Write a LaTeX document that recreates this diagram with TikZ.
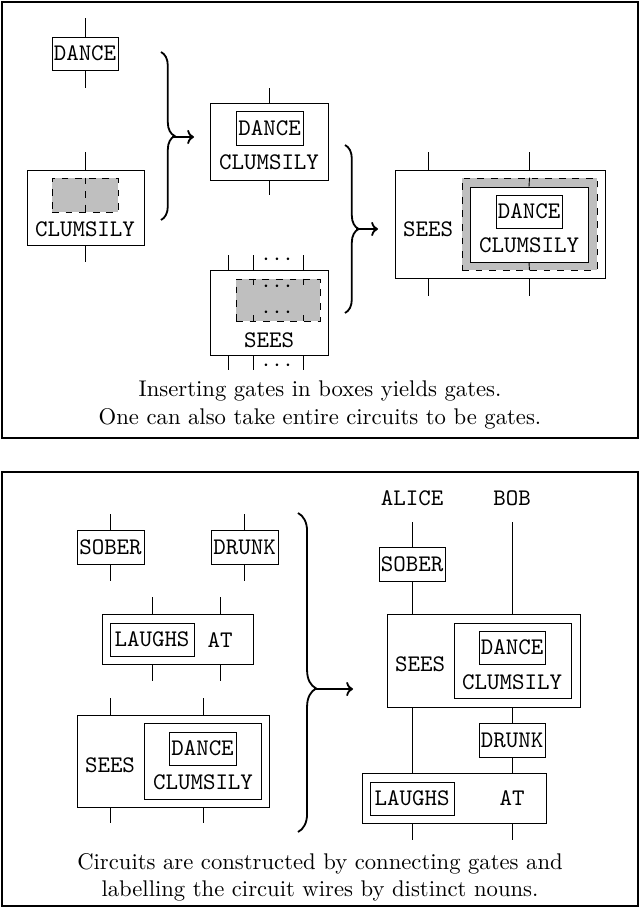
\documentclass[tikz,border=0pt]{standalone}
\usetikzlibrary{fit,decorations.pathreplacing,arrows.meta}

\tikzset{
	gate/.style={draw, rectangle, inner sep=0pt, font=\ttfamily},
	hole/.style={draw, dashed, fill=gray!50, inner sep=0pt},
	lbl/.style={font=\fontsize{10.5}{12}\ttfamily, inner sep=0pt},
	panel/.style={draw, thick, inner sep=0pt},
	bracer/.style={decorate, decoration={brace, amplitude=6pt}, thick},
	into/.style={thick, -{To[length=3pt]}}
}

\begin{document}
\begin{tikzpicture}[x=0.0155cm, y=-0.0155cm]
		\useasboundingbox (0,0) rectangle (640,909);
		\node[panel, fit={(2,2) (638,438)}] (top) {};
		\node[panel, fit={(2,472) (638,906)}] (bot) {};
		
		% top panel, left column
		\node[gate, fit={(52,37) (118,70)}] (dance) {};
		\node[lbl] at (dance) {DANCE};
		\draw (dance.north) -- ++(0,-19);
		\draw (dance.south) -- ++(0,18);
		
		\node[gate, fit={(27,170) (144,245)}] (clumsily) {};
		\node[hole, fit={(52,178) (118,212)}] (hole1) {};
		\node[lbl] at (85,229) {CLUMSILY};
		\draw (clumsily.north) -- ++(0,-18);
		\draw (clumsily.south) -- ++(0,17);
		\draw[dashed] (hole1.north) -- (hole1.south);
		
		\draw[bracer] (161,52) -- (161,220);
		\coordinate (tip1) at (172,137);
		\coordinate (in1) at (194,137);
		\draw[into] (tip1) -- (in1);
		
		% top panel, middle column
		\node[gate, fit={(210,103) (328,180)}] (dc) {};
		\node[gate, fit={(236,111) (303,145)}] (dcd) {};
		\node[lbl] at (dcd) {DANCE};
		\node[lbl] at (269,162) {CLUMSILY};
		\draw (dc.north) -- ++(0,-15);
		\draw (dc.south) -- ++(0,15);
		
		\node[gate, fit={(210,270) (328,355)}] (sees) {};
		\node[hole, fit={(236,279) (320,321)}] (hole2) {};
		\node[lbl] at (269,340) {SEES};
		\foreach \x in {228,253,303} {
			\draw (\x,0 |- sees.north) -- ++(0,-15);
			\draw (\x,0 |- sees.south) -- ++(0,15);
		}
		\foreach \x in {253,303} {
			\draw[dashed] (\x,0 |- hole2.north) -- ++(0,8);
			\draw[dashed] (\x,0 |- hole2.south) -- ++(0,-8);
		}
		\node[lbl] at (277,260) {$\cdots$};
		\node[lbl] at (277,287) {$\cdots$};
		\node[lbl] at (277,313) {$\cdots$};
		\node[lbl] at (277,366) {$\cdots$};
		
		\draw[bracer] (345,145) -- (345,313);
		\coordinate (tip2) at (356,229);
		\coordinate (in2) at (378,229);
		\draw[into] (tip2) -- (in2);
		
		% top panel, result
		\node[gate, fit={(395,170) (605,278)}] (big) {};
		\node[hole, fit={(462,178) (597,270)}] (hole3) {};
		\node[gate, fill=white, fit={(470,187) (588,262)}] (bigdc) {};
		\node[gate, fit={(496,195) (562,228)}] (bigd) {};
		\node[lbl] at (bigd) {DANCE};
		\node[lbl] at (529,245) {CLUMSILY};
		\node[lbl] at (428,229) {SEES};
		\foreach \x in {428,529} {
			\draw (\x,0 |- big.north) -- ++(0,-18);
			\draw (\x,0 |- big.south) -- ++(0,18);
		}
		\draw (hole3.north) -- (bigdc.north);
		\draw (hole3.south) -- (bigdc.south);
		
		\node[align=center] at (320,405) {Inserting gates in boxes yields gates.\\One can also take entire circuits to be gates.};
		
		% bottom panel, gates
		\node[gate, fit={(77,530) (144,564)}] (sober) {};
		\node[lbl] at (sober) {SOBER};
		\draw (sober.north) -- ++(0,-16);
		\draw (sober.south) -- ++(0,17);
		\node[gate, fit={(211,530) (278,564)}] (drunk) {};
		\node[lbl] at (drunk) {DRUNK};
		\draw (drunk.north) -- ++(0,-16);
		\draw (drunk.south) -- ++(0,17);
		
		\node[gate, fit={(102,614) (253,664)}] (la) {};
		\node[gate, fit={(110,623) (194,656)}] (laughs) {};
		\node[lbl] at (laughs) {LAUGHS};
		\node[lbl] at (220,640) {AT};
		\foreach \x in {152,220} {
			\draw (\x,0 |- la.north) -- ++(0,-17);
			\draw (\x,0 |- la.south) -- ++(0,17);
		}
		
		\node[gate, fit={(77,715) (269,807)}] (sdc) {};
		\node[gate, fit={(144,723) (261,799)}] (sdcin) {};
		\node[gate, fit={(169,732) (236,765)}] (sdcd) {};
		\node[lbl] at (sdcd) {DANCE};
		\node[lbl] at (203,782) {CLUMSILY};
		\node[lbl] at (110,765) {SEES};
		\foreach \x in {110,203} {
			\draw (\x,0 |- sdc.north) -- ++(0,-17);
			\draw (\x,0 |- sdc.south) -- ++(0,16);
		}
		
		\draw[bracer, decoration={amplitude=8pt, aspect=0.55}] (298,513) -- (298,832);
		\coordinate (tip3) at (314,689);
		\coordinate (in3) at (353,689);
		\draw[into] (tip3) -- (in3);
		
		% bottom panel, circuit
		\node[lbl] (alice) at (412,498) {ALICE};
		\node[lbl] (bob) at (512,498) {BOB};
		\coordinate (aend) at (412,840);
		\coordinate (bend) at (512,840);
		\node[gate, fit={(379,547) (445,581)}] (csober) {};
		\node[lbl] at (csober) {SOBER};
		\node[gate, fit={(387,614) (580,707)}] (csees) {};
		\node[gate, fit={(454,623) (571,698)}] (cseesin) {};
		\node[gate, fit={(479,631) (545,664)}] (cdance) {};
		\node[lbl] at (cdance) {DANCE};
		\node[lbl] at (512,682) {CLUMSILY};
		\node[lbl] at (420,664) {SEES};
		\node[gate, fit={(479,723) (545,757)}] (cdrunk) {};
		\node[lbl] at (cdrunk) {DRUNK};
		\node[gate, fit={(362,773) (546,823)}] (cla) {};
		\node[gate, fit={(370,782) (454,815)}] (claughs) {};
		\node[lbl] at (claughs) {LAUGHS};
		\node[lbl] at (512,798) {AT};
		
		\draw (412,522) -- (csober.north);
		\draw (csober.south) -- (412,0 |- csees.north);
		\draw (412,0 |- csees.south) -- (412,0 |- cla.north);
		\draw (412,0 |- cla.south) -- (aend);
		\draw (512,522) -- (512,0 |- csees.north);
		\draw (512,0 |- csees.south) -- (cdrunk.north);
		\draw (cdrunk.south) -- (512,0 |- cla.north);
		\draw (512,0 |- cla.south) -- (bend);
		
		\node[align=center] at (320,877) {Circuits are constructed by connecting gates and\\labelling the circuit wires by distinct nouns.};
	\end{tikzpicture}
\end{document}
